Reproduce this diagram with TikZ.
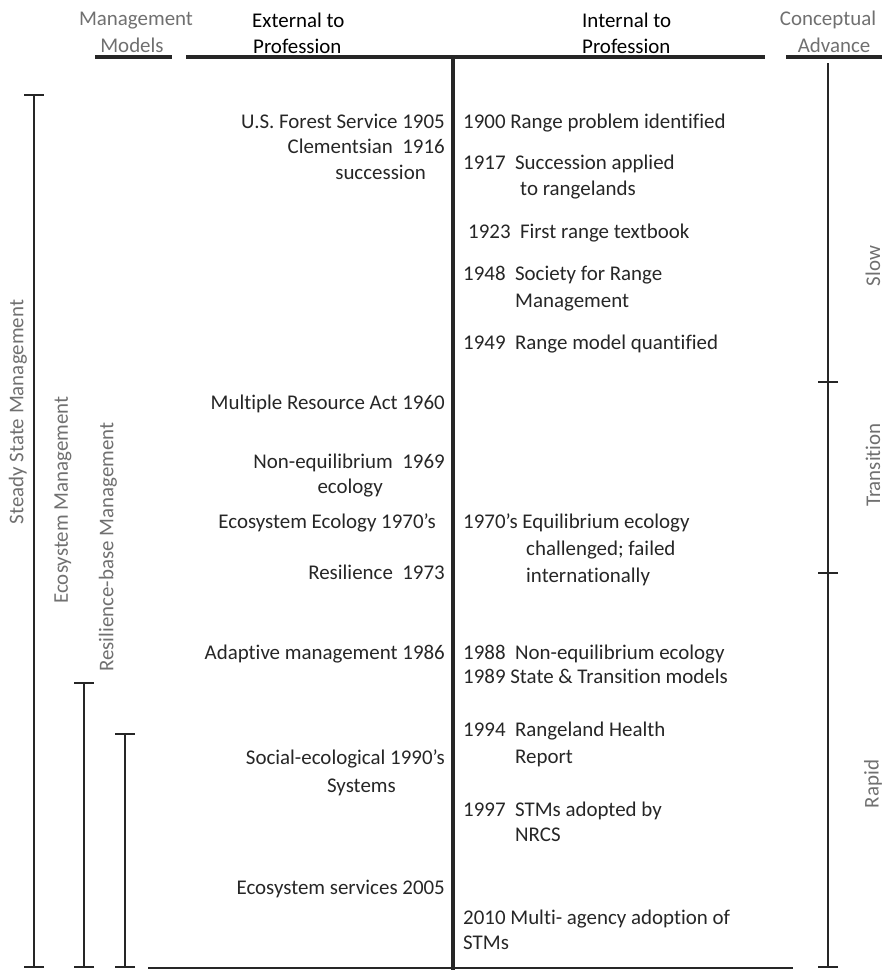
\documentclass[tikz,border=0pt]{standalone}
\usepackage{fontspec}
\setmainfont{Carlito}[Ligatures=NoCommon]
\usetikzlibrary{arrows.meta}
\definecolor{labelgray}{HTML}{707070}
\definecolor{inkdark}{HTML}{262626}
\tikzset{>={Bar[width=20bp]}}

\begin{document}
\begin{tikzpicture}[x=1bp,y=-1bp,
    font=\fontsize{21}{25}\selectfont,
    ext/.style={anchor=base east,inner sep=0pt,text=inkdark},
    int/.style={anchor=base west,inner sep=0pt,text=inkdark},
    hdr/.style={anchor=base,inner sep=0pt,text=labelgray},
    colhdr/.style={anchor=base west,inner sep=0pt,text=black},
    phase/.style={rotate=90,inner sep=0pt,text=labelgray},
    bar/.style={line width=2.4bp,draw=inkdark},
    rule/.style={line width=3.8bp,draw=inkdark}]
\useasboundingbox (0,0) rectangle (886,970);

% column heads
\node[hdr] (mm1) at (136,25) {Management};
\node[hdr] (mm2) at (132,52) {Models};
\node[colhdr] (ex1) at (252,27) {External to};
\node[colhdr] (ex2) at (253,53) {Profession};
\node[colhdr] (in1) at (582,27) {Internal to};
\node[colhdr] (in2) at (582,53) {Profession};
\node[hdr] (ca1) at (828,25) {Conceptual};
\node[hdr] (ca2) at (834,52) {Advance};
\draw[rule] (95,57) -- (172,57);
\draw[rule] (186,57) -- (765,57);
\draw[rule] (786,57) -- (882,57);

% time axis
\draw[line width=3.6bp,draw=inkdark] (453,57) -- (453,970);
\draw[line width=1.5bp,draw=inkdark] (148,968) -- (793,968);

% management models
\coordinate (ss-top) at (34,94);
\coordinate (ss-bot) at (34,968);
\coordinate (em-top) at (84,682);
\coordinate (em-bot) at (84,968);
\coordinate (rb-top) at (125,733);
\coordinate (rb-bot) at (125,968);
\draw[bar,<->] (ss-top) -- (ss-bot);
\draw[bar,<->] (em-top) -- (em-bot);
\draw[bar,<->] (rb-top) -- (rb-bot);
\node[phase] (ssm) at (18,412) {Steady State Management};
\node[phase] (ecm) at (63,500) {Ecosystem Management};
\node[phase] (rbm) at (108,547) {Resilience-base Management};

% conceptual advance
\coordinate (adv0) at (828,63);
\coordinate (adv1) at (828,383);
\coordinate (adv2) at (828,574);
\coordinate (adv3) at (828,968);
\draw[bar,->] (adv0) -- (adv1);
\draw[bar,->] (adv1) -- (adv2);
\draw[bar,->] (adv2) -- (adv3);
\node[phase] (slow) at (873,266) {Slow};
\node[phase] (trans) at (873,465) {Transition};
\node[phase] (rapid) at (873,784) {Rapid};

% external events
\node[ext] (usfs) at (445,128) {U.S. Forest Service 1905};
\node[ext] (clem) at (445,153) {Clementsian\ \ 1916};
\node[ext] (succ) at (426,179) {succession};
\node[ext] (mra) at (445,409) {Multiple Resource Act 1960};
\node[ext] (noneq) at (445,468) {Non-equilibrium\ \ 1969};
\node[ext] (ecol) at (383,493) {ecology};
\node[ext] (ecoeco) at (436,528) {Ecosystem Ecology 1970’s};
\node[ext] (resil) at (445,579) {Resilience\ \ 1973};
\node[ext] (adapt) at (445,659) {Adaptive management 1986};
\node[ext] (socio) at (445,764) {Social-ecological 1990’s};
\node[ext] (syst) at (396,792) {Systems};
\node[ext] (ess) at (445,894) {Ecosystem services 2005};

% internal events
\node[int] (r1900) at (463,128) {1900 Range problem identified};
\node[int] (r1917) at (463,169) {1917\ \ Succession applied};
\node[int] (r1917b) at (520,195) {to rangelands};
\node[int] (r1923) at (468,238) {1923\ \ First range textbook};
\node[int] (r1948) at (463,280) {1948\ \ Society for Range};
\node[int] (r1948b) at (515,307) {Management};
\node[int] (r1949) at (463,349) {1949\ \ Range model quantified};
\node[int] (r1970) at (463,528) {1970’s Equilibrium ecology};
\node[int] (r1970b) at (526,555) {challenged; failed};
\node[int] (r1970c) at (526,582) {internationally};
\node[int] (r1988) at (463,659) {1988\ \ Non-equilibrium ecology};
\node[int] (r1989) at (463,683) {1989 State \& Transition models};
\node[int] (r1994) at (463,736) {1994\ \ Rangeland Health};
\node[int] (r1994b) at (515,763) {Report};
\node[int] (r1997) at (463,816) {1997\ \ STMs adopted by};
\node[int] (r1997b) at (515,841) {NRCS};
\node[int] (r2010) at (463,924) {2010 Multi- agency adoption of};
\node[int] (r2010b) at (463,949) {STMs};
\end{tikzpicture}
\end{document}
